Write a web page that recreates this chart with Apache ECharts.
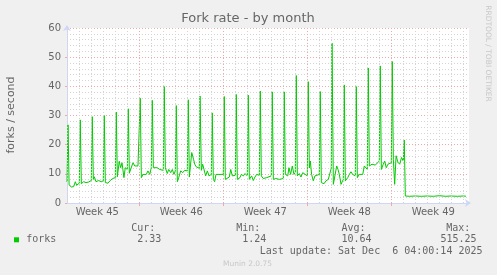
<!DOCTYPE html>
<html><head><meta charset="utf-8">
<script src="https://cdn.jsdelivr.net/npm/echarts@6/dist/echarts.min.js"></script>
<style>html,body{margin:0;padding:0;background:#f0f0f0}#c{width:497px;height:275px}</style>
</head><body><div id="c"></div>
<script>
// x = days since Mon 3 Nov 2025 00:00, y = forks / second
const week45 = [
[0.975,7.2],[1.0,7.0],[1.06,26.8],[1.15,6.2],[1.33,5.5],[1.53,5.6],[1.67,7.3],[1.78,6.1],[2.0,6.8],
[2.08,28.5],[2.17,6.6],[2.36,7.3],[2.56,7.0],[2.78,7.2],[3.0,7.7],
[3.08,29.6],[3.17,8.1],[3.25,9.0],[3.39,7.3],[3.61,7.7],[3.83,7.3],[4.0,7.6],
[4.08,30.0],[4.17,7.0],[4.39,6.8],[4.58,7.7],[4.78,8.4],[5.0,8.7],
[5.08,31.2],[5.17,9.0],[5.33,14.3],[5.45,12.1],[5.56,13.8],[5.72,8.7],[5.83,12.1],[6.0,11.5],
[6.08,32.3],[6.17,10.2],[6.33,10.7],[6.47,13.8],[6.62,12.7],[6.75,13.3],[6.89,12.7],[7.0,13.0]
];
const week46 = [
[7.08,35.9],[7.17,8.7],[7.31,9.8],[7.45,9.8],[7.58,9.8],[7.72,11.0],[7.87,9.8],[8.0,12.1],
[8.08,35.2],[8.17,12.1],[8.33,11.5],[8.5,12.1],[8.7,11.5],[8.83,12.1],[9.0,11.2],
[9.08,39.9],[9.17,12.1],[9.33,10.1],[9.45,11.5],[9.62,10.4],[9.75,11.5],[9.89,9.8],[10.0,11.0],
[10.08,33.4],[10.17,7.3],[10.28,8.7],[10.45,11.0],[10.62,10.4],[10.78,11.2],[11.0,11.0],
[11.08,35.4],[11.17,8.9],[11.37,17.3],[11.52,15.0],[11.62,13.3],[11.75,12.4],[11.87,12.1],[12.0,11.9],
[12.06,36.7],[12.17,11.2],[12.28,13.3],[12.39,13.8],[12.53,9.3],[12.67,11.0],[12.81,9.3],[13.0,9.8],
[13.08,30.9],[13.17,8.1],[13.28,7.3],[13.39,9.8],[13.56,9.8],[13.72,9.5],[14.0,9.8]
];
const week47 = [
[14.08,36.5],[14.17,8.1],[14.33,8.4],[14.5,8.9],[14.62,11.5],[14.75,9.3],[14.89,9.8],[15.0,9.5],
[15.08,37.2],[15.17,8.1],[15.39,8.7],[15.5,9.8],[15.67,9.3],[15.81,10.1],[16.0,9.3],
[16.08,37.0],[16.17,8.1],[16.36,9.3],[16.5,7.7],[16.64,8.9],[16.78,9.8],[17.0,9.5],
[17.08,38.4],[17.17,9.3],[17.33,8.4],[17.48,8.1],[17.62,8.7],[17.75,8.1],[18.0,9.3],
[18.08,38.1],[18.17,8.1],[18.37,8.4],[18.5,8.9],[18.67,8.1],[18.81,8.7],[19.0,8.4],
[19.08,38.1],[19.17,9.8],[19.37,9.3],[19.47,12.1],[19.61,9.8],[19.75,12.7],[19.89,9.8],[20.0,10.5],
[20.08,43.7],[20.17,9.3],[20.33,10.1],[20.47,8.9],[20.62,10.4],[20.75,9.8],[21.0,9.3]
];
const week48 = [
[21.08,41.6],[21.17,12.0],[21.25,14.4],[21.36,9.8],[21.5,7.6],[21.64,9.3],[21.78,8.7],[22.0,9.8],
[22.08,38.2],[22.17,7.0],[22.39,6.6],[22.56,7.6],[22.75,8.1],[22.87,7.8],[23.0,12.0],
[23.06,54.8],[23.17,6.4],[23.28,5.8],[23.45,12.7],[23.56,11.5],[23.67,9.8],[23.81,6.4],[24.0,8.1],
[24.08,40.5],[24.17,7.6],[24.37,8.7],[24.5,9.8],[24.64,10.7],[24.78,9.8],[25.0,9.3],
[25.08,39.9],[25.17,8.7],[25.33,9.8],[25.45,10.1],[25.62,9.8],[25.75,12.7],[26.0,11.5],
[26.08,46.3],[26.17,12.7],[26.39,13.3],[26.53,12.8],[26.67,13.0],[26.81,13.3],[27.0,14.4],
[27.08,47.0],[27.17,11.5],[27.33,13.3],[27.45,14.4],[27.58,12.1],[27.72,13.3],[28.0,13.8]
];
const week49 = [
[28.08,48.5],[28.17,15.0],[28.28,6.4],[28.4,16.2],[28.55,14.0],[28.7,13.3],[28.85,15.6],[29.0,14.4],
[29.08,21.6],[29.17,2.4],[29.5,2.3],[30.0,2.4],[30.5,2.3],[31.0,2.4],[31.5,2.3],[32.0,2.5],[32.5,2.3],
[33.0,2.4],[33.5,2.3],[34.0,2.4],[34.22,2.33]
];
const weekLabels = ['Week 45','Week 46','Week 47','Week 48','Week 49'];
const weekLabelPos = [3.5, 10.5, 17.5, 24.5, 31.5];
const weekStarts = [7, 14, 21, 28];
const dayLines = [1,2,3,4,5,6,8,9,10,11,12,13,15,16,17,18,19,20,22,23,24,25,26,27,29,30,31,32,33,34];
const legendHead = ['Cur:','Min:','Avg:','Max:'];
const legendVals = ['2.33','1.24','10.64','515.25'];
const seriesName = 'forks';
const lastUpdate = 'Last update: Sat Dec  6 04:00:14 2025';

const forks = [].concat(week45, week46, week47, week48, week49);
const FONT = '#666';
const mono = 'DejaVu Sans Mono';
const sans = 'DejaVu Sans';

const chart = echarts.init(document.getElementById('c'), null, {renderer:'canvas'});
const gridStyle = {color:'#d4d4d4', type:[1,2], width:1};
const mGridStyle = {color:'#eeaaaa', type:[1,2], width:1};

const headX = [131.2, 236.2, 341.5, 446.2];
const valX = [137.2, 242.2, 341.5, 440.5];
const graphics = [
  {type:'text', x:248, y:18.5, style:{text:'Fork rate - by month', fill:FONT, font:'13px "DejaVu Sans"', align:'center', verticalAlign:'middle'}},
  {type:'text', x:11, y:115, rotation:Math.PI/2, style:{text:'forks / second', fill:FONT, font:'11px "DejaVu Sans"', align:'center', verticalAlign:'middle'}},
  {type:'text', x:487.5, y:53.5, rotation:-Math.PI/2, style:{text:'RRDTOOL / TOBI OETIKER', fill:'#c8c8c8', font:'7.5px "DejaVu Sans"', align:'center', verticalAlign:'middle'}},
  {type:'rect', shape:{x:14, y:237.3, width:5, height:5}, style:{fill:'#00cc00'}},
  {type:'text', x:26.2, y:239.5, style:{text:seriesName, fill:FONT, font:'10px "'+mono+'"', align:'left', verticalAlign:'middle'}},
  {type:'text', x:482.5, y:251.2, style:{text:lastUpdate, fill:FONT, font:'10px "'+mono+'"', align:'right', verticalAlign:'middle'}},
  {type:'text', x:247.5, y:264.3, style:{text:'Munin 2.0.75', fill:'#c8c8c8', font:'7.5px "DejaVu Sans"', align:'center', verticalAlign:'middle'}}
];
legendHead.forEach((t,i)=>graphics.push({type:'text', x:headX[i], y:228.2, style:{text:t, fill:FONT, font:'10px "'+mono+'"', align:'left', verticalAlign:'middle'}}));
legendVals.forEach((t,i)=>graphics.push({type:'text', x:valX[i], y:239.5, style:{text:t, fill:FONT, font:'10px "'+mono+'"', align:'left', verticalAlign:'middle'}}));

chart.setOption({
  animation:false,
  backgroundColor:'#f0f0f0',
  grid:{left:67, right:28, top:28, bottom:72, show:true, backgroundColor:'#ffffff', borderWidth:0},
  xAxis:{
    type:'value', min:0.975, max:34.475,
    axisLine:{show:true, lineStyle:{color:'#cfd6f8', width:1}, symbol:['none','arrow'], symbolSize:[6,6], symbolOffset:[0,2]},
    axisTick:{show:true, customValues:weekStarts, length:3, lineStyle:{color:'#eeaaaa'}},
    axisLabel:{show:true, customValues:weekLabelPos, formatter:(v)=>{const i=weekLabelPos.indexOf(v);return i>=0?weekLabels[i]:'';}, color:FONT, fontFamily:sans, fontSize:10, margin:4},
    splitLine:{show:false}
  },
  yAxis:{
    type:'value', min:0, max:60, interval:10,
    axisLine:{show:true, lineStyle:{color:'#cfd6f8', width:1}, symbol:['none','arrow'], symbolSize:[6,6], symbolOffset:[0,3]},
    axisTick:{show:true, length:2, lineStyle:{color:'#eeaaaa'}},
    axisLabel:{color:FONT, fontFamily:sans, fontSize:10, margin:6},
    splitLine:{show:true, lineStyle:mGridStyle},
    minorTick:{show:false, splitNumber:5},
    minorSplitLine:{show:true, lineStyle:gridStyle}
  },
  graphic:graphics,
  series:[
    {type:'line', data:[], z:1, silent:true,
     markLine:{silent:true, symbol:['none','none'], label:{show:false}, animation:false,
       data:[].concat(
         dayLines.map(d=>({xAxis:d, lineStyle:gridStyle})),
         weekStarts.map(d=>({xAxis:d, lineStyle:mGridStyle}))
       )}},
    {type:'line', name:seriesName, data:forks, z:3, showSymbol:false, symbol:'none',
     lineStyle:{color:'#00cc00', width:1}, itemStyle:{color:'#00cc00'}}
  ]
});
</script></body></html>
